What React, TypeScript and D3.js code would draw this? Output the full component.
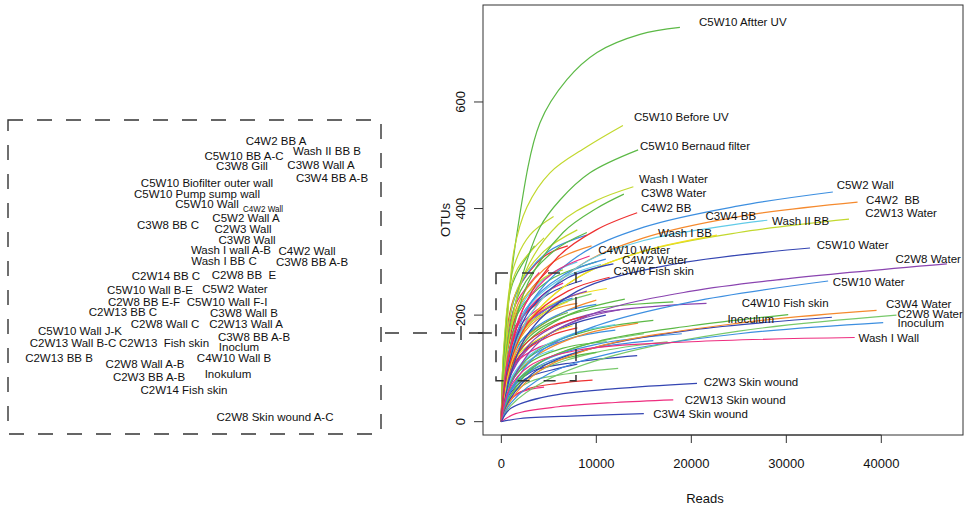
import React from "react";
import * as d3 from "d3";

// axis ticks
const xTicks = [0, 10000, 20000, 30000, 40000];
const yTicks = [0, 200, 400, 600];

const palette: Record<string, string> = {
  G: "#5cb946",
  YG: "#c2d82e",
  R: "#ee3030",
  B: "#3d8fe0",
  P: "#ee2d7f",
  O: "#f58a2e",
  C: "#62cbe8",
  Y: "#f2df1f",
  DB: "#3445b2",
  PU: "#8a44b0",
  LG: "#78c96b",
};

// unlabelled rarefaction curves: [colour, [reads, OTUs] points]
const bundleCurves: [string, number[][]][] = [
  ["G", [[0, 0], [250, 130], [1200, 260], [3500, 330]]],
  ["YG", [[0, 0], [300, 140], [1500, 280], [4500, 345]]],
  ["R", [[0, 0], [300, 120], [1500, 240], [4500, 310], [7000, 330]]],
  ["B", [[0, 0], [350, 125], [1800, 250], [5000, 320], [9000, 350]]],
  ["P", [[0, 0], [300, 110], [1500, 220], [4000, 280]]],
  ["O", [[0, 0], [400, 115], [2000, 230], [5500, 300], [9500, 330]]],
  ["C", [[0, 0], [400, 110], [2000, 215], [5000, 275], [8000, 300]]],
  ["G", [[0, 0], [350, 105], [1800, 205], [5000, 265], [10000, 300]]],
  ["Y", [[0, 0], [500, 95], [2500, 185], [6500, 230], [11100, 250]]],
  ["DB", [[0, 0], [400, 100], [2000, 190], [5000, 240], [8500, 265]]],
  ["R", [[0, 0], [300, 95], [1500, 180], [4000, 225]]],
  ["PU", [[0, 0], [500, 90], [2500, 175], [6000, 225], [9000, 245]]],
  ["LG", [[0, 0], [400, 85], [2000, 165], [5500, 215], [9500, 240]]],
  ["B", [[0, 0], [400, 90], [2000, 170], [5000, 215], [7500, 232]]],
  ["P", [[0, 0], [300, 85], [1500, 160], [4000, 205], [6000, 220]]],
  ["O", [[0, 0], [500, 80], [2500, 155], [6500, 205], [10000, 228]]],
  ["G", [[0, 0], [400, 80], [2000, 150], [5000, 190], [7000, 205]]],
  ["YG", [[0, 0], [300, 150], [1300, 290], [3000, 350], [5500, 385]]],
  ["YG", [[0, 0], [350, 120], [1700, 250], [4500, 320], [8000, 360]]],
  ["G", [[0, 0], [450, 120], [2000, 245], [5500, 320], [9000, 355]]],
  ["R", [[0, 0], [400, 110], [2000, 220], [5000, 285]]],
  ["B", [[0, 0], [500, 105], [2500, 210], [6500, 275], [11000, 305]]],
  ["C", [[0, 0], [450, 100], [2200, 200], [6000, 265], [10500, 295]]],
  ["P", [[0, 0], [400, 95], [2000, 190], [4500, 240], [6500, 260]]],
  ["G", [[0, 0], [500, 75], [2500, 145], [7000, 200], [13000, 230]]],
  ["PU", [[0, 0], [600, 70], [3000, 140], [8000, 190], [12500, 210]]],
  ["DB", [[0, 0], [500, 70], [2500, 135], [7000, 180], [11000, 200]]],
  ["Y", [[0, 0], [400, 70], [2000, 130], [5000, 165], [7500, 180]]],
  ["R", [[0, 0], [400, 65], [2000, 125], [5000, 160], [8000, 176]]],
  ["B", [[0, 0], [500, 60], [2500, 115], [7000, 155], [12000, 172]]],
  ["O", [[0, 0], [600, 60], [3000, 115], [8000, 160], [14400, 185]]],
  ["G", [[0, 0], [500, 55], [2500, 105], [6500, 138], [11100, 150]]],
  ["LG", [[0, 0], [600, 50], [3000, 100], [8000, 140], [15000, 165]]],
  ["DB", [[0, 0], [600, 48], [3000, 92], [8000, 112], [14300, 124]]],
  ["LG", [[0, 0], [600, 40], [3000, 75], [7000, 90], [12300, 100]]],
  ["R", [[0, 0], [500, 35], [2500, 60], [6000, 72], [9600, 78]]],
  ["P", [[0, 0], [300, 60], [1500, 110], [4000, 140], [6000, 150]]],
  ["C", [[0, 0], [500, 55], [2500, 110], [5500, 135]]],
  ["G", [[0, 0], [600, 80], [3000, 160], [8000, 205], [18100, 225]]],
  ["PU", [[0, 0], [700, 75], [3500, 155], [9000, 200], [21600, 222]]],
  ["B", [[0, 0], [500, 85], [2500, 160], [6500, 205], [10000, 220]]],
  ["O", [[0, 0], [500, 90], [2500, 170], [5500, 210], [8000, 222]]],
  ["Y", [[0, 0], [600, 100], [3000, 185], [7000, 225]]],
  ["P", [[0, 0], [400, 100], [2000, 180], [4200, 215]]],
  ["G", [[0, 0], [700, 65], [3500, 130], [9000, 170], [16000, 190]]],
  ["B", [[0, 0], [800, 55], [4000, 110], [10000, 145], [19000, 165]]],
  ["LG", [[0, 0], [800, 45], [4000, 95], [10000, 130], [17500, 150]]],
  ["P", [[0, 0], [500, 30], [2000, 55], [4500, 65]]],
  ["DB", [[0, 0], [500, 40], [2500, 80], [6000, 100], [8000, 108]]],
  ["G", [[0, 0], [500, 45], [2500, 90], [7000, 120], [10000, 130]]],
  ["YG", [[0, 0], [350, 110], [1800, 215], [4500, 270], [6500, 285]]],
  ["R", [[0, 0], [450, 75], [2200, 140], [5500, 180], [9000, 198]]],
  ["C", [[0, 0], [600, 65], [3000, 125], [7500, 165], [12000, 182]]],
  ["B", [[0, 0], [700, 50], [3500, 100], [9000, 135], [16000, 152]]],
];

// labelled rarefaction curves
const namedCurves: [string, number[][]][] = [
  ["G", [[0, 0], [400, 150], [1650, 354], [4070, 561], [6900, 642], [10070, 693], [14600, 727], [18800, 740]]],
  ["YG", [[0, 0], [500, 150], [1340, 322], [2700, 403], [5120, 467], [9000, 516], [12800, 556]]],
  ["G", [[0, 0], [600, 140], [2000, 260], [4070, 365], [6180, 416], [9330, 467], [14400, 510]]],
  ["YG", [[0, 0], [600, 130], [2500, 280], [6000, 370], [10000, 415], [13900, 441]]],
  ["G", [[0, 0], [700, 120], [2800, 260], [6500, 355], [10000, 400], [12900, 427]]],
  ["R", [[0, 0], [700, 110], [2500, 220], [6000, 310], [10000, 360], [14300, 392]]],
  ["B", [[0, 0], [800, 110], [3000, 220], [8000, 310], [15000, 365], [25000, 405], [34900, 431]]],
  ["O", [[0, 0], [800, 100], [3000, 200], [8000, 290], [15000, 345], [25000, 385], [37500, 412]]],
  ["YG", [[0, 0], [800, 95], [3000, 190], [8000, 270], [15000, 320], [25000, 355], [36600, 380]]],
  ["C", [[0, 0], [800, 100], [3000, 200], [8000, 290], [15000, 340], [28000, 378]]],
  ["Y", [[0, 0], [800, 95], [3000, 190], [8000, 270], [15000, 320], [22700, 350]]],
  ["DB", [[0, 0], [1000, 90], [3000, 170], [8000, 245], [18000, 295], [32500, 326]]],
  ["PU", [[0, 0], [1000, 70], [4000, 150], [10000, 205], [20000, 245], [30000, 268], [46900, 296]]],
  ["P", [[0, 0], [600, 110], [2500, 220], [5500, 280], [9300, 311]]],
  ["DB", [[0, 0], [700, 100], [3000, 210], [7000, 270], [11800, 296]]],
  ["R", [[0, 0], [700, 95], [3000, 190], [7000, 245], [11400, 271]]],
  ["B", [[0, 0], [1000, 60], [4000, 130], [10000, 180], [20000, 225], [34400, 264]]],
  ["G", [[0, 0], [1000, 50], [4000, 110], [10000, 150], [20000, 180], [30200, 201]]],
  ["DB", [[0, 0], [1000, 45], [4000, 100], [10000, 140], [20000, 172], [34800, 196]]],
  ["O", [[0, 0], [1000, 40], [4000, 95], [10000, 140], [25000, 185], [39500, 209]]],
  ["LG", [[0, 0], [1000, 30], [5000, 80], [12000, 125], [25000, 170], [41600, 200]]],
  ["B", [[0, 0], [1000, 35], [5000, 90], [12000, 130], [25000, 165], [40200, 186]]],
  ["P", [[0, 0], [800, 60], [3000, 105], [8000, 134], [20000, 150], [37200, 158]]],
  ["DB", [[0, 0], [1000, 25], [5000, 48], [12000, 62], [20600, 72]]],
  ["P", [[0, 0], [1500, 15], [6000, 28], [12000, 36], [18100, 41]]],
  ["DB", [[0, 0], [2000, 6], [8000, 11], [15000, 15]]],
];

// curve labels: [text, reads, OTUs]
const curveLabels: [string, number, number][] = [
  ["C5W10 Aftter UV", 20810, 750],
  ["C5W10 Before UV", 13970, 572],
  ["C5W10 Bernaud filter", 14600, 518],
  ["Wash I Water", 14500, 456],
  ["C3W8 Water", 14700, 429],
  ["C4W2 BB", 14700, 401],
  ["C3W4 BB", 21500, 386],
  ["Wash I BB", 16500, 354],
  ["C5W2 Wall", 35300, 444],
  ["C4W2  BB", 38400, 416],
  ["C2W13 Water", 38300, 392],
  ["Wash II BB", 28500, 377],
  ["C5W10 Water", 33200, 331],
  ["C2W8 Water", 41500, 305],
  ["C4W10 Water", 10200, 322],
  ["C4W2 Water", 12700, 303],
  ["C3W8 Fish skin", 11800, 282],
  ["C5W10 Water", 34900, 262],
  ["C4W10 Fish skin", 25300, 222],
  ["Inoculum", 23800, 192],
  ["C3W4 Water", 40500, 220],
  ["C2W8 Water", 41700, 203],
  ["Inoculum", 41700, 185],
  ["Wash I Wall", 37600, 158],
  ["C2W3 Skin wound", 21300, 75],
  ["C2W13 Skin wound", 19300, 41],
  ["C3W4 Skin wound", 16000, 15],
];

// zoomed-region sample names: [text, panel x, panel y]
const panelLabels: [string, number, number][] = [
  ["C4W2 BB A", 268, 21],
  ["C5W10 BB A-C", 236, 36],
  ["Wash II BB B", 319, 31],
  ["C3W8 Gill", 234, 46],
  ["C3W8 Wall A", 313, 45],
  ["C3W4 BB A-B", 324, 58],
  ["C5W10 Biofilter outer wall", 199, 63],
  ["C5W10 Pump sump wall", 189, 74],
  ["C5W10 Wall", 199, 84],
  ["C5W2 Wall A", 238, 98],
  ["C3W8 BB C", 160, 105],
  ["C2W3 Wall", 235, 109],
  ["C3W8 Wall", 239, 120],
  ["Wash I wall A-B", 223, 130],
  ["C4W2 Wall", 299, 131],
  ["Wash I BB C", 216, 141],
  ["C3W8 BB A-B", 304, 142],
  ["C2W14 BB C", 158, 156],
  ["C2W8 BB  E", 236, 155],
  ["C5W10 Wall B-E", 142, 170],
  ["C5W2 Water", 227, 169],
  ["C2W8 BB E-F", 136, 182],
  ["C5W10 Wall F-I", 219, 182],
  ["C2W13 BB C", 115, 192],
  ["C3W8 Wall B", 236, 193],
  ["C5W10 Wall J-K", 72, 211],
  ["C2W8 Wall C", 157, 204],
  ["C2W13 Wall A", 238, 204],
  ["C3W8 BB A-B", 246, 217],
  ["C2W13 Wall B-C", 65, 223],
  ["C2W13  Fish skin", 156, 223],
  ["Inoclum", 231, 227],
  ["C2W13 BB B", 51, 238],
  ["C4W10 Wall B", 226, 238],
  ["C2W8 Wall A-B", 137, 244],
  ["Inokulum", 220, 254],
  ["C2W3 BB A-B", 141, 257],
  ["C2W14 Fish skin", 176, 270],
  ["C2W8 Skin wound A-C", 267, 297],
];
const smallPanelLabel: [string, number, number] = ["C4W2 Wall", 255, 89];

// zoom window in data units
const zoomReads = [-560, 7860];
const zoomOtus = [77, 279];

const W = 971;
const H = 505;
const font = "'Liberation Sans', Arial, Helvetica, sans-serif";

export default function App() {
  const x = d3.scaleLinear().domain([-1930, 48600]).range([483, 963]);
  const y = d3.scaleLinear().domain([-25, 782]).range([435, 5]);

  const line = d3
    .line<number[]>()
    .x((d) => x(d[0]))
    .y((d) => y(d[1]))
    .curve(d3.curveCatmullRom.alpha(0.5));

  const panel = { left: 8, top: 120, right: 381, bottom: 434 };
  const px = d3.scaleLinear().domain([0, 373]).range([panel.left, panel.right]);
  const py = d3.scaleLinear().domain([0, 314]).range([panel.top, panel.bottom]);

  const [x0, x1] = x.range();
  const [yb, yt] = y.range();
  const connectorY = 333;

  return (
    <svg
      width={W}
      height={H}
      style={{ position: "absolute", left: 0, top: 0, background: "#fff" }}
      fontFamily={font}
    >
      <rect width={W} height={H} fill="#fff" />

      {/* curves */}
      <g fill="none" strokeWidth={1.2}>
        {bundleCurves.map(([c, pts], i) => (
          <path key={"b" + i} d={line(pts) || ""} stroke={palette[c]} />
        ))}
        {namedCurves.map(([c, pts], i) => (
          <path key={"n" + i} d={line(pts) || ""} stroke={palette[c]} />
        ))}
      </g>

      {/* curve labels */}
      <g fontSize={11.5} fill="#111">
        {curveLabels.map(([t, r, o], i) => (
          <text key={i} x={x(r)} y={y(o)} dy="0.35em" style={{ whiteSpace: "pre" }}>
            {t}
          </text>
        ))}
      </g>

      {/* zoom window */}
      <rect
        x={x(zoomReads[0])}
        y={y(zoomOtus[1])}
        width={x(zoomReads[1]) - x(zoomReads[0])}
        height={y(zoomOtus[0]) - y(zoomOtus[1])}
        fill="none"
        stroke="#333"
        strokeWidth={1.5}
        strokeDasharray="12,14"
      />

      {/* frame */}
      <rect x={x0} y={yt} width={x1 - x0} height={yb - yt} fill="none" stroke="#333" strokeWidth={1} />

      {/* x axis */}
      <g stroke="#333">
        <line x1={x(xTicks[0])} x2={x(xTicks[xTicks.length - 1])} y1={yb} y2={yb} />
        {xTicks.map((t) => (
          <line key={t} x1={x(t)} x2={x(t)} y1={yb} y2={yb + 8} />
        ))}
      </g>
      <g fontSize={13} textAnchor="middle" fill="#111">
        {xTicks.map((t) => (
          <text key={t} x={x(t)} y={yb + 28} dy="0.35em">
            {t}
          </text>
        ))}
        <text x={705} y={498} dy="0.35em">
          Reads
        </text>
      </g>

      {/* y axis */}
      <g stroke="#333">
        {yTicks.map((t) => (
          <line key={t} x1={x0 - 9} x2={x0} y1={y(t)} y2={y(t)} />
        ))}
      </g>
      <g fontSize={13} textAnchor="middle" fill="#111">
        {yTicks.map((t) => (
          <text key={t} transform={`translate(460,${y(t)}) rotate(-90)`} dy="0.35em">
            {t}
          </text>
        ))}
        <text transform={`translate(445,${(yt + yb) / 2}) rotate(-90)`} dy="0.35em">
          OTUs
        </text>
      </g>

      {/* connector */}
      <line
        x1={panel.right + 4}
        x2={x(-1000)}
        y1={connectorY}
        y2={connectorY}
        stroke="#333"
        strokeWidth={1.5}
        strokeDasharray="14,14"
      />
      <line x1={461} x2={461} y1={connectorY - 7} y2={connectorY + 7} stroke="#333" strokeWidth={1.5} />
      <line x1={x0 - 5} x2={x(-1000)} y1={connectorY} y2={connectorY} stroke="#333" strokeWidth={1.5} />

      {/* zoomed sample panel */}
      <rect
        x={panel.left}
        y={panel.top}
        width={panel.right - panel.left}
        height={panel.bottom - panel.top}
        fill="none"
        stroke="#333"
        strokeWidth={1.4}
        strokeDasharray="15,14"
      />
      <g fontSize={11.5} textAnchor="middle" fill="#111">
        {panelLabels.map(([t, a, b], i) => (
          <text key={i} x={px(a)} y={py(b)} dy="0.35em" style={{ whiteSpace: "pre" }}>
            {t}
          </text>
        ))}
        <text
          x={px(smallPanelLabel[1])}
          y={py(smallPanelLabel[2])}
          dy="0.35em"
          fontSize={9.5}
          textLength={40}
          lengthAdjust="spacingAndGlyphs"
        >
          {smallPanelLabel[0]}
        </text>
      </g>
    </svg>
  );
}
